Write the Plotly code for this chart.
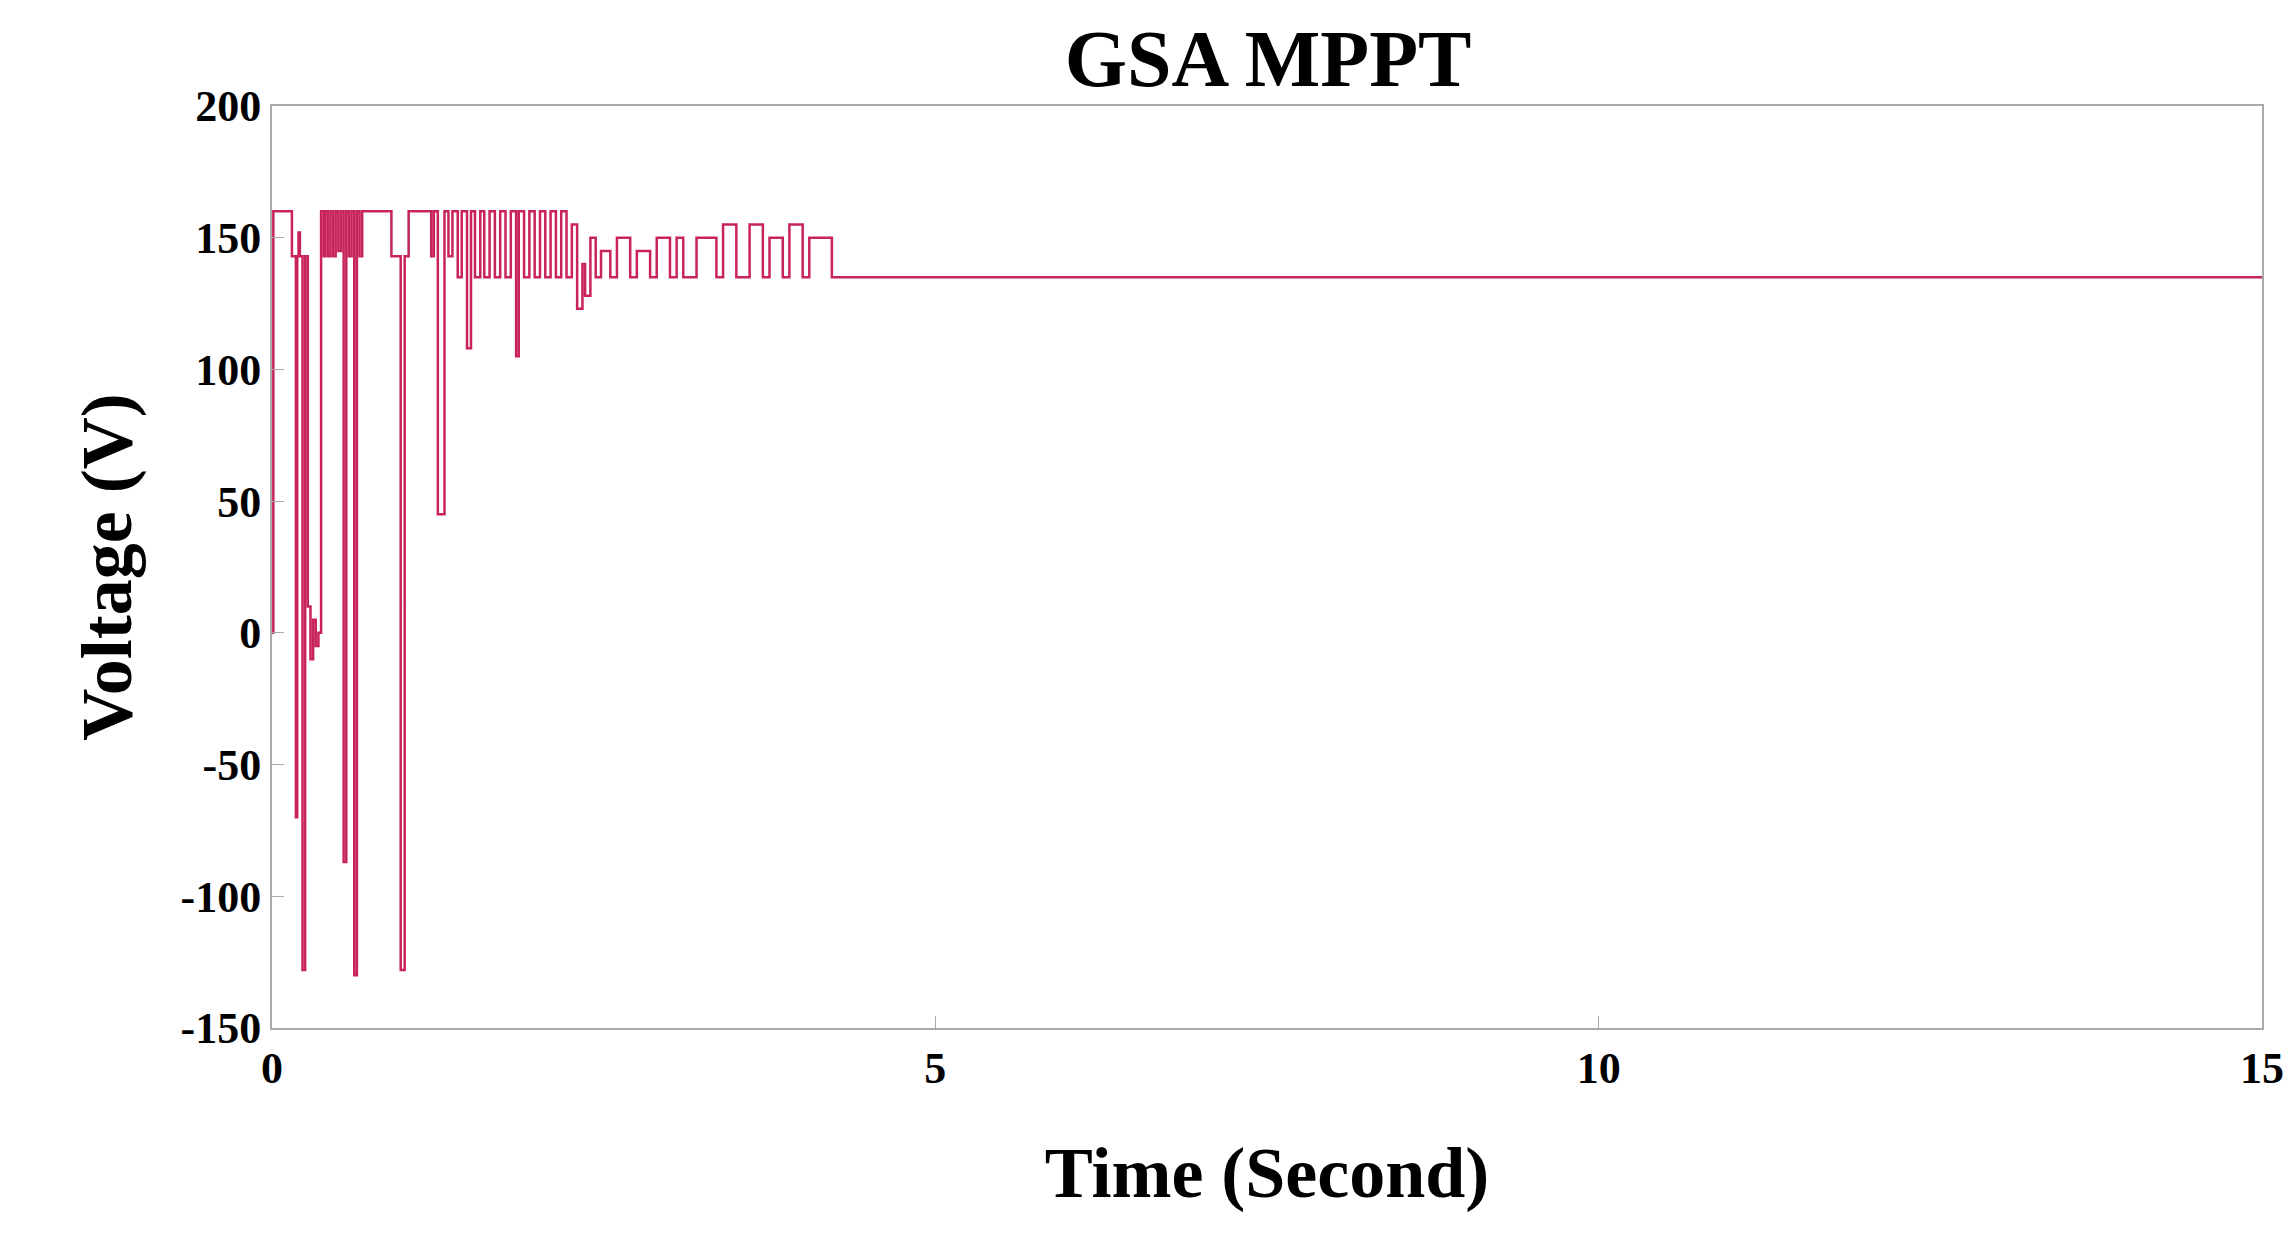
import plotly.graph_objects as go

# time (s) and voltage (V)
time = [0, 0.01, 0.02, 0.13, 0.15, 0.17, 0.18, 0.19, 0.2, 0.21, 0.23, 0.25, 0.27, 0.29, 0.31,
        0.33, 0.35, 0.37, 0.39, 0.4, 0.42, 0.44, 0.46, 0.48, 0.5, 0.52, 0.54, 0.56, 0.58,
        0.6, 0.62, 0.64, 0.66, 0.68, 0.7, 0.72, 0.75, 0.88, 0.9, 0.93, 0.97, 1.0, 1.03,
        1.06, 1.1, 1.16, 1.2, 1.22, 1.25, 1.3, 1.33, 1.36, 1.4, 1.43, 1.47, 1.5, 1.53,
        1.57, 1.6, 1.64, 1.68, 1.72, 1.76, 1.8, 1.84, 1.86, 1.9, 1.94, 1.98, 2.02, 2.06,
        2.1, 2.14, 2.18, 2.22, 2.26, 2.3, 2.34, 2.36, 2.4, 2.44, 2.48, 2.55, 2.6, 2.7,
        2.75, 2.85, 2.9, 3.0, 3.05, 3.1, 3.2, 3.35, 3.4, 3.5, 3.6, 3.7, 3.75, 3.85, 3.9,
        4.0, 4.05, 4.1, 4.2, 4.22, 15]
volt = [0, 160, 160, 160, 143, 143, -70, 143, 152, 143, -128, 143, 10, -10, 5,
        -5, 0, 160, 143, 160, 143, 160, 143, 160, 145, 160, -87, 160, 143,
        160, -130, 160, 143, 160, 160, 160, 160, 160, 143, 143, -128, 143, 160,
        160, 160, 160, 143, 160, 45, 160, 143, 160, 135, 160, 108, 160, 135,
        160, 135, 160, 135, 160, 135, 160, 105, 160, 135, 160, 135, 160, 135,
        160, 135, 160, 135, 155, 123, 140, 128, 150, 135, 145, 135, 150, 135,
        145, 135, 150, 135, 150, 135, 150, 135, 155, 135, 155, 135, 150, 135, 155,
        135, 150, 150, 150, 135, 135]

fig = go.Figure()
fig.add_trace(go.Scatter(x=time, y=volt, mode='lines', line_shape='hv',
                         line=dict(color='#c8245a', width=2.5)))

font = 'Liberation Serif'
fig.update_layout(
    title=dict(text='<b>GSA MPPT</b>', x=0.55, y=0.982, xanchor='center',
               font=dict(family=font, size=80, color='black')),
    paper_bgcolor='white', plot_bgcolor='white',
    width=2291, height=1233, showlegend=False,
    margin=dict(l=264, r=37, t=98, b=213),
    font=dict(family=font, color='black'),
)
axis = dict(showline=True, linecolor='#aaaaaa', linewidth=2, mirror=True,
            ticks='inside', tickcolor='#aaaaaa', ticklen=12, showgrid=False,
            zeroline=False, tickfont=dict(family=font, size=44, color='black'))
fig.update_xaxes(range=[0, 15], tickvals=[0, 5, 10, 15], ticktext=['<b>0</b>', '<b>5</b>', '<b>10</b>', '<b>15</b>'],
                 title=dict(text='<b>Time (Second)</b>', font=dict(family=font, size=72), standoff=55), **axis)
fig.update_yaxes(range=[-150, 200], tickvals=list(range(-150, 201, 50)),
                 ticktext=[f'<b>{v}</b>' for v in range(-150, 201, 50)],
                 title=dict(text='<b>Voltage (V)</b>', font=dict(family=font, size=72), standoff=25), **axis)
fig.write_html('out.html')
